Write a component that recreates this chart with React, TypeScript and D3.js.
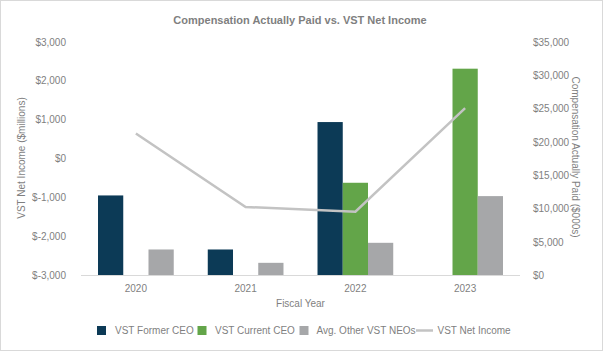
import React, {useEffect, useRef} from 'react';
import * as d3 from 'd3';

const years = ['2020', '2021', '2022', '2023'];
const seriesNames = ['VST Former CEO', 'VST Current CEO', 'Avg. Other VST NEOs'];
// compensation actually paid ($000s), null = no bar
const formerCeo = [12000, 3900, 23000, null];
const currentCeo = [null, null, 13900, 31000];
const otherNeos = [3900, 1900, 4900, 11900];
// VST net income ($millions)
const netIncome = [650, -1240, -1360, 1300];

const leftTicks = [-3000, -2000, -1000, 0, 1000, 2000, 3000];
const rightTicks = [0, 5000, 10000, 15000, 20000, 25000, 30000, 35000];

const colors = ['#0c3a56', '#63a549', '#a6a7a9'];
const lineColor = '#c3c3c3';
const textColor = '#7f7f7f';

const W = 603;
const H = 351;

const App = () => {
    const svgRef = useRef(null);

    useEffect(() => {
        const svg = d3.select(svgRef.current);
        svg.selectAll('*').remove();

        const font = 'Liberation Sans, Arial, sans-serif';
        const left = 81, right = 520, top = 42, bottom = 275.5;

        // border
        svg.append('rect')
            .attr('x', 0.5).attr('y', 0.5)
            .attr('width', W - 1).attr('height', H - 1)
            .attr('fill', '#fff').attr('stroke', '#d9d9d9');

        // title
        svg.append('text')
            .attr('x', 300).attr('y', 24)
            .attr('text-anchor', 'middle')
            .attr('font-family', font).attr('font-size', 11).attr('font-weight', 'bold')
            .attr('fill', textColor)
            .text('Compensation Actually Paid vs. VST Net Income');

        const x = d3.scaleBand()
            .domain(years)
            .range([left, right])
            .paddingInner(0.31)
            .paddingOuter(0.155);

        const xSub = d3.scaleBand()
            .domain(seriesNames)
            .range([0, x.bandwidth()]);

        const yLeft = d3.scaleLinear().domain([-3000, 3000]).range([bottom, top]);
        const yRight = d3.scaleLinear().domain([0, 35000]).range([bottom, top]);

        const money = d3.format(',');
        const fmt = (v) => v < 0 ? `$-${money(-v)}` : `$${money(v)}`;

        // left axis labels
        svg.append('g').selectAll('text')
            .data(leftTicks)
            .enter()
            .append('text')
            .attr('x', 66)
            .attr('y', d => yLeft(d))
            .attr('dy', '0.35em')
            .attr('text-anchor', 'end')
            .attr('font-family', font).attr('font-size', 10)
            .attr('fill', textColor)
            .text(fmt);

        // right axis labels
        svg.append('g').selectAll('text')
            .data(rightTicks)
            .enter()
            .append('text')
            .attr('x', 533)
            .attr('y', d => yRight(d))
            .attr('dy', '0.35em')
            .attr('text-anchor', 'start')
            .attr('font-family', font).attr('font-size', 10)
            .attr('fill', textColor)
            .text(fmt);

        // axis titles
        svg.append('text')
            .attr('transform', 'translate(25, 158) rotate(-90)')
            .attr('text-anchor', 'middle')
            .attr('font-family', font).attr('font-size', 10)
            .attr('fill', textColor)
            .text('VST Net Income ($millions)');

        svg.append('text')
            .attr('transform', 'translate(572, 157) rotate(90)')
            .attr('text-anchor', 'middle')
            .attr('font-family', font).attr('font-size', 10)
            .attr('fill', textColor)
            .text('Compensation Actually Paid ($000s)');

        // bars
        const series = [formerCeo, currentCeo, otherNeos];
        const rows = [];
        series.forEach((vals, si) => {
            vals.forEach((v, i) => {
                if (v != null) rows.push({year: years[i], name: seriesNames[si], value: v, color: colors[si]});
            });
        });

        svg.append('g').selectAll('rect')
            .data(rows)
            .enter()
            .append('rect')
            .attr('x', d => x(d.year) + xSub(d.name))
            .attr('y', d => yRight(d.value))
            .attr('width', xSub.bandwidth())
            .attr('height', d => yRight(0) - yRight(d.value))
            .attr('fill', d => d.color);

        // baseline
        svg.append('line')
            .attr('x1', left).attr('x2', right)
            .attr('y1', bottom).attr('y2', bottom)
            .attr('stroke', '#d9d9d9').attr('stroke-width', 1);

        // net income line
        const line = d3.line()
            .x((d, i) => x(years[i]) + x.bandwidth() / 2)
            .y(d => yLeft(d));

        svg.append('path')
            .datum(netIncome)
            .attr('d', line)
            .attr('fill', 'none')
            .attr('stroke', lineColor)
            .attr('stroke-width', 2.5);

        // x labels
        svg.append('g').selectAll('text')
            .data(years)
            .enter()
            .append('text')
            .attr('x', d => x(d) + x.bandwidth() / 2)
            .attr('y', 291.5)
            .attr('text-anchor', 'middle')
            .attr('font-family', font).attr('font-size', 10)
            .attr('fill', textColor)
            .text(d => d);

        svg.append('text')
            .attr('x', (left + right) / 2).attr('y', 306.5)
            .attr('text-anchor', 'middle')
            .attr('font-family', font).attr('font-size', 10)
            .attr('fill', textColor)
            .text('Fiscal Year');

        // legend
        const legend = svg.append('g');
        const swatchX = [97, 197.5, 299.5];
        const textX = [115, 215, 316.5];
        seriesNames.forEach((name, i) => {
            legend.append('rect')
                .attr('x', swatchX[i]).attr('y', 326)
                .attr('width', 9).attr('height', 9)
                .attr('fill', colors[i]);
            legend.append('text')
                .attr('x', textX[i]).attr('y', 334)
                .attr('font-family', font).attr('font-size', 10)
                .attr('fill', textColor)
                .text(name);
        });
        legend.append('line')
            .attr('x1', 416).attr('x2', 433)
            .attr('y1', 330.5).attr('y2', 330.5)
            .attr('stroke', lineColor).attr('stroke-width', 2.5);
        legend.append('text')
            .attr('x', 437.5).attr('y', 334)
            .attr('font-family', font).attr('font-size', 10)
            .attr('fill', textColor)
            .text('VST Net Income');
    }, []);

    return (
        <div style={{position: 'absolute', left: 0, top: 0}}>
            <svg ref={svgRef} width={W} height={H}></svg>
        </div>
    );
};

export default App;
